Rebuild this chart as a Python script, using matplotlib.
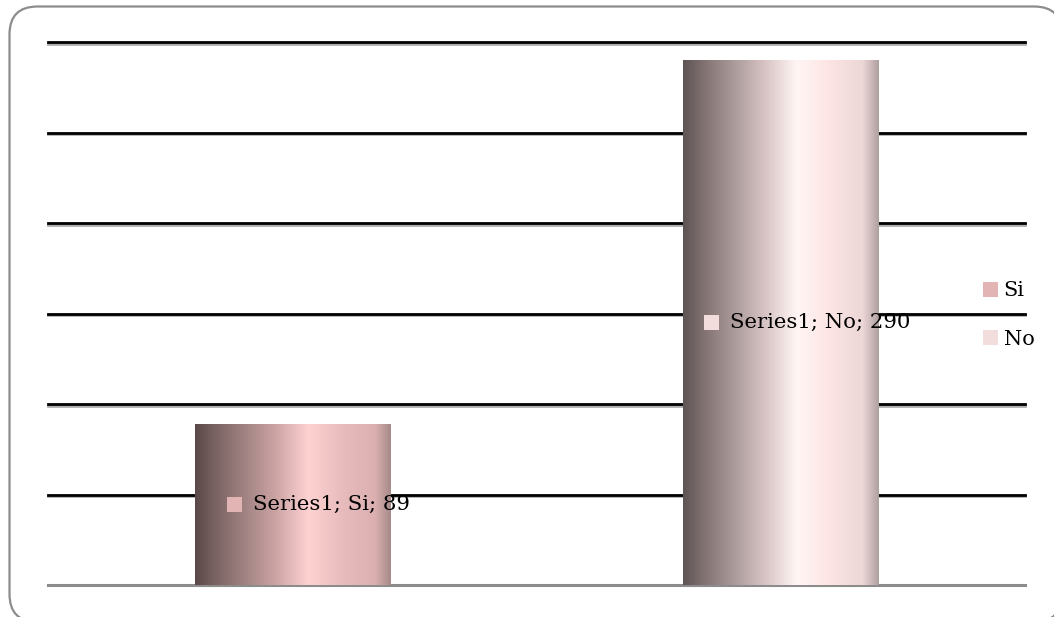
import numpy as np
import matplotlib
matplotlib.use("Agg")
import matplotlib.pyplot as plt
import matplotlib.patheffects as pe
from matplotlib.colors import LinearSegmentedColormap
from matplotlib.patches import FancyBboxPatch, Rectangle, Patch
from matplotlib.offsetbox import AnnotationBbox, HPacker, DrawingArea, TextArea

# data
categories = ["Si", "No"]
values = [89, 290]
series_name = "Series1"

# colours: legend swatch + gradient stops (left -> right) for each bar
swatch_colors = ["#e2b4b4", "#f2dcdc"]
bar_stops = [
    ["#5a4848", "#7a6262", "#a08282", "#cfa6a6", "#ffd2d2", "#e8bcbc", "#dcb0b0", "#a88a8a"],
    ["#5e5454", "#807070", "#a89898", "#d8c4c4", "#fff6f4", "#fce4e4", "#ecd6d6", "#b0a0a0"],
]
stop_pos = [0.0, 0.1, 0.25, 0.42, 0.58, 0.75, 0.92, 1.0]

plt.rcParams["font.family"] = ["DejaVu Serif"]

W, H = 1054, 617
fig = plt.figure(figsize=(W / 100, H / 100), dpi=100)

# background axes in pixel units (y up) for the rounded frame,
# frame runs slightly past the right and bottom edges like the original
bg = fig.add_axes([0, 0, 1, 1])
bg.set_xlim(0, W)
bg.set_ylim(0, H)
bg.axis("off")
fb = FancyBboxPatch((9.5, H - 622), 1052.5, 615.5, boxstyle="round,pad=0,rounding_size=28")
# flatten the bezier corners so agg's edge clipping doesn't warp them
for poly in fb.get_path().to_polygons(closed_only=True):
    bg.plot(poly[:, 0], poly[:, 1], color="#8c8c8c", linewidth=1.6)

ax = fig.add_axes([48 / W, 32 / H, 977 / W, 543 / H])
ax.patch.set_alpha(0)

x = np.arange(len(categories))
bars = ax.bar(x, values, width=0.4, color=swatch_colors, zorder=2)

# gradient fill clipped to each bar
grad = np.linspace(0, 1, 256).reshape(1, -1)
for b, stops in zip(bars, bar_stops):
    cmap = LinearSegmentedColormap.from_list("g", list(zip(stop_pos, stops)))
    x0, y0 = b.get_x(), b.get_y()
    im = ax.imshow(grad, cmap=cmap, aspect="auto", zorder=3,
                   extent=[x0, x0 + b.get_width(), y0, y0 + b.get_height()])
    im.set_clip_path(b)

ax.set_xlim(-0.5, 1.5)
ax.set_ylim(0, 300)
ax.set_yticks(np.arange(50, 301, 50))
ax.yaxis.grid(True, color="black", linewidth=2.0)
ax.set_axisbelow(True)
for gl in ax.get_ygridlines():
    gl.set_clip_on(False)
    gl.set_path_effects([pe.SimpleLineShadow(offset=(0, -1.2), shadow_color="#777777", alpha=0.6),
                         pe.Normal()])
ax.tick_params(left=False, bottom=False, labelleft=False, labelbottom=False)
for s in ["top", "left", "right"]:
    ax.spines[s].set_visible(False)
ax.spines["bottom"].set_color("#8c8c8c")
ax.spines["bottom"].set_linewidth(2.2)

# data labels: swatch + "Series1; cat; value" centred at mid bar
for xi, cat, v, c in zip(x, categories, values, swatch_colors):
    da = DrawingArea(10.5, 10.5)
    da.add_artist(Rectangle((0, 0), 10.5, 10.5, facecolor=c, edgecolor="none"))
    ta = TextArea(f"{series_name}; {cat}; {v}", textprops=dict(fontsize=15.3, color="black"))
    box = HPacker(children=[da, ta], align="center", pad=0, sep=8)
    ab = AnnotationBbox(box, (xi, v / 2), xybox=(19, 0), boxcoords="offset points",
                        frameon=False, box_alignment=(0.5, 0.5), zorder=5)
    ax.add_artist(ab)

handles = [Patch(facecolor=c, edgecolor="none") for c in swatch_colors]
ax.legend(handles, categories, loc="center left", bbox_to_anchor=(964 / W, 302 / H),
          bbox_transform=fig.transFigure, frameon=False, fontsize=15,
          handlelength=0.75, handleheight=0.75, handletextpad=0.25, labelspacing=1.4)

fig.savefig("out.png", dpi=100)
